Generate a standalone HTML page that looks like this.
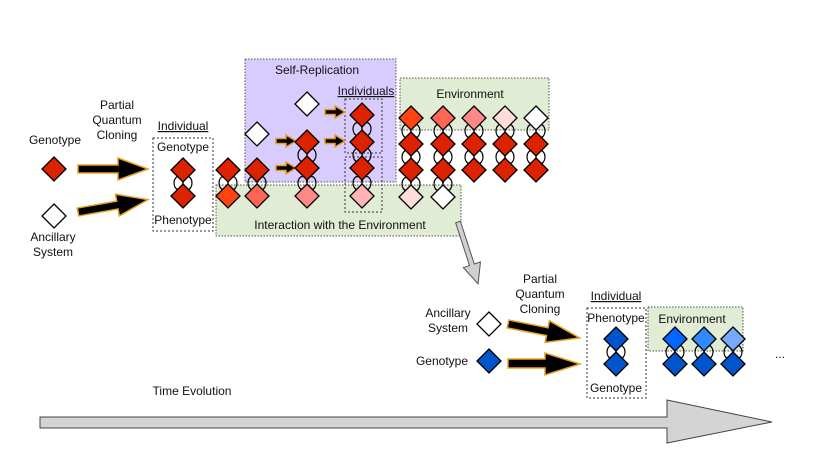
<!DOCTYPE html>
<html><head><meta charset="utf-8"><style>
html,body{margin:0;padding:0;background:#fff}
svg{display:block}
text{font-family:"Liberation Sans",sans-serif;font-size:12px;fill:#111}
</style></head><body>
<svg width="830" height="467" viewBox="0 0 830 467" xmlns="http://www.w3.org/2000/svg">
<defs>
<g id="lk"><ellipse cx="-4.5" cy="0" rx="4.5" ry="6.5" fill="none" stroke="#000" stroke-width="1.2"/><ellipse cx="4.5" cy="0" rx="4.5" ry="6.5" fill="none" stroke="#000" stroke-width="1.2"/></g>
<path id="dm" d="M0,-12 L12,0 L0,12 L-12,0 Z" stroke="#000" stroke-width="1.3"/>
<path id="sa" d="M0,-2.5 L10,-2.5 L10,-6 L20,0 L10,6 L10,2.5 L0,2.5 Z" fill="#000" stroke="#e8a020" stroke-width="1.5"/>
</defs>
<!-- boxes -->
<rect x="245" y="59" width="151" height="123" fill="#d8ccff" stroke="#555" stroke-dasharray="1.5,1.5"/>
<rect x="400" y="78" width="149" height="52" fill="#e0ecd4" stroke="#555" stroke-dasharray="1.5,1.5"/>
<rect x="216" y="185" width="245" height="51" fill="#e0ecd4" stroke="#555" stroke-dasharray="1.5,1.5"/>
<rect x="153" y="138" width="60" height="93" fill="none" stroke="#333" stroke-dasharray="2,2"/>
<rect x="345" y="99" width="37" height="54" fill="none" stroke="#333" stroke-dasharray="2,2"/>
<rect x="345" y="157" width="37" height="55" fill="none" stroke="#333" stroke-dasharray="2,2"/>
<rect x="587" y="308" width="59" height="90" fill="none" stroke="#333" stroke-dasharray="2,2"/>
<rect x="648" y="307" width="95" height="44" fill="#e0ecd4" stroke="#555" stroke-dasharray="1.5,1.5"/>
<!-- labels -->
<text x="117" y="109" text-anchor="middle">Partial</text>
<text x="117" y="124" text-anchor="middle">Quantum</text>
<text x="117" y="139" text-anchor="middle">Cloning</text>
<text x="55" y="144" text-anchor="middle">Genotype</text>
<text x="53" y="241" text-anchor="middle">Ancillary</text>
<text x="53" y="256" text-anchor="middle">System</text>
<text x="183" y="130" text-anchor="middle" text-decoration="underline">Individual</text>
<text x="183" y="151" text-anchor="middle">Genotype</text>
<text x="183" y="224" text-anchor="middle">Phenotype</text>
<text x="317" y="74" text-anchor="middle">Self-Replication</text>
<text x="366" y="95" text-anchor="middle" text-decoration="underline">Individuals</text>
<text x="470" y="98" text-anchor="middle">Environment</text>
<text x="340" y="229" text-anchor="middle" font-size="12.5">Interaction with the Environment</text>
<text x="540" y="283" text-anchor="middle">Partial</text>
<text x="540" y="298" text-anchor="middle">Quantum</text>
<text x="540" y="313" text-anchor="middle">Cloning</text>
<text x="448" y="317" text-anchor="middle">Ancillary</text>
<text x="448" y="332" text-anchor="middle">System</text>
<text x="442" y="365" text-anchor="middle">Genotype</text>
<text x="616" y="300" text-anchor="middle" text-decoration="underline">Individual</text>
<text x="616" y="322" text-anchor="middle">Phenotype</text>
<text x="616" y="392" text-anchor="middle">Genotype</text>
<text x="692" y="323" text-anchor="middle">Environment</text>
<text x="780" y="358" text-anchor="middle">...</text>
<text x="192" y="395" text-anchor="middle">Time Evolution</text>
<!-- big arrows -->
<path d="M78,165 L118,165 L118,158 L148,169 L118,180 L118,173 L78,173 Z" fill="#000" stroke="#e8a020" stroke-width="1.5"/>
<g transform="translate(78,212) rotate(-10)"><path d="M0,-4 L40,-4 L40,-11 L71,0 L40,11 L40,4 L0,4 Z" fill="#000" stroke="#e8a020" stroke-width="1.5"/></g>
<g transform="translate(508,324) rotate(11)"><path d="M0,-4 L40,-4 L40,-11 L73,0 L40,11 L40,4 L0,4 Z" fill="#000" stroke="#e8a020" stroke-width="1.5"/></g>
<path d="M508,359 L545,359 L545,353 L580,364 L545,375 L545,368 L508,368 Z" fill="#000" stroke="#e8a020" stroke-width="1.5"/>
<!-- small arrows -->
<use href="#sa" x="276" y="141"/><use href="#sa" x="276" y="168"/>
<use href="#sa" x="325" y="112"/><use href="#sa" x="325" y="141"/>
<!-- gray arrows -->
<g transform="translate(458,222) rotate(-18)"><path d="M-2.5,0 L-2.5,45 L-9,45 L0,65 L9,45 L2.5,45 L2.5,0 Z" fill="#d0d0d0" stroke="#555" stroke-width="1"/></g>
<path d="M40,417 L667,417 L667,400 L772,422 L667,443 L667,428 L40,428 Z" fill="#d4d4d4" stroke="#444" stroke-width="1"/>
<!-- links -->
<use href="#lk" x="183" y="183"/><use href="#lk" x="228" y="183"/><use href="#lk" x="257" y="183"/>
<use href="#lk" x="307" y="155"/><use href="#lk" x="307" y="183"/>
<use href="#lk" x="362" y="129"/><use href="#lk" x="362" y="155"/><use href="#lk" x="362" y="183"/>
<use href="#lk" x="411" y="131"/><use href="#lk" x="411" y="157"/><use href="#lk" x="411" y="184"/>
<use href="#lk" x="443" y="131"/><use href="#lk" x="443" y="157"/><use href="#lk" x="443" y="184"/>
<use href="#lk" x="474" y="131"/><use href="#lk" x="474" y="157"/>
<use href="#lk" x="505" y="131"/><use href="#lk" x="505" y="157"/>
<use href="#lk" x="536" y="131"/><use href="#lk" x="536" y="157"/>
<use href="#lk" x="616" y="352"/><use href="#lk" x="675" y="352"/><use href="#lk" x="704" y="352"/><use href="#lk" x="733" y="352"/>
<!-- diamonds -->
<use href="#dm" x="54" y="169" fill="#dd2200"/>
<use href="#dm" x="54" y="216" fill="#fff"/>
<use href="#dm" x="183" y="170" fill="#dd2200"/><use href="#dm" x="183" y="196" fill="#dd2200"/>
<use href="#dm" x="228" y="170" fill="#dd2200"/><use href="#dm" x="228" y="196" fill="#ff4411"/>
<use href="#dm" x="257" y="134" fill="#fff"/><use href="#dm" x="257" y="170" fill="#dd2200"/><use href="#dm" x="257" y="196" fill="#ff6655"/>
<use href="#dm" x="307" y="104" fill="#fff"/><use href="#dm" x="307" y="142" fill="#dd2200"/><use href="#dm" x="307" y="168" fill="#dd2200"/><use href="#dm" x="307" y="196" fill="#ff8888"/>
<use href="#dm" x="362" y="115" fill="#dd2200"/><use href="#dm" x="362" y="142" fill="#dd2200"/><use href="#dm" x="362" y="168" fill="#dd2200"/><use href="#dm" x="362" y="196" fill="#ffb5b5"/>
<use href="#dm" x="411" y="118" fill="#ff4411"/><use href="#dm" x="411" y="144" fill="#dd2200"/><use href="#dm" x="411" y="170" fill="#dd2200"/><use href="#dm" x="411" y="197" fill="#ffdddd"/>
<use href="#dm" x="443" y="118" fill="#ff6655"/><use href="#dm" x="443" y="144" fill="#dd2200"/><use href="#dm" x="443" y="170" fill="#dd2200"/><use href="#dm" x="443" y="197" fill="#fff"/>
<use href="#dm" x="474" y="118" fill="#ff8888"/><use href="#dm" x="474" y="144" fill="#dd2200"/><use href="#dm" x="474" y="170" fill="#dd2200"/>
<use href="#dm" x="505" y="118" fill="#ffdddd"/><use href="#dm" x="505" y="144" fill="#dd2200"/><use href="#dm" x="505" y="170" fill="#dd2200"/>
<use href="#dm" x="536" y="118" fill="#fff"/><use href="#dm" x="536" y="144" fill="#dd2200"/><use href="#dm" x="536" y="170" fill="#dd2200"/>
<use href="#dm" x="489" y="324" fill="#fff"/><use href="#dm" x="489" y="361" fill="#0055cc"/>
<use href="#dm" x="616" y="339" fill="#0055cc"/><use href="#dm" x="616" y="364" fill="#0055cc"/>
<use href="#dm" x="675" y="339" fill="#0066ff"/><use href="#dm" x="675" y="364" fill="#0055cc"/>
<use href="#dm" x="704" y="339" fill="#3388ff"/><use href="#dm" x="704" y="364" fill="#0055cc"/>
<use href="#dm" x="733" y="339" fill="#77aaff"/><use href="#dm" x="733" y="364" fill="#0055cc"/>
</svg>
</body></html>
